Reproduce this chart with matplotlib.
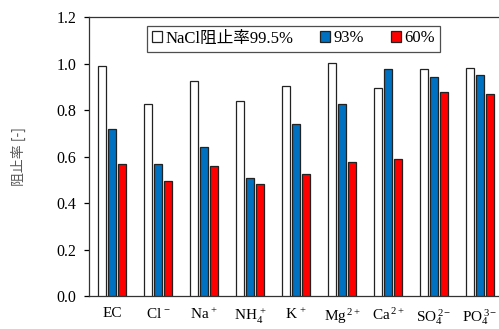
import matplotlib
matplotlib.use("Agg")
import matplotlib.pyplot as plt
import numpy as np
from matplotlib.patches import Patch

categories = ["EC", "Cl$^{\\,-}$", "Na$^{\\,+}$", "NH$_{4}^{\\,+}$", "K$^{\\,+}$",
              "Mg$^{\\,2+}$", "Ca$^{\\,2+}$", "SO$_{4}^{\\,2-}$", "PO$_{4}^{\\,3-}$"]
series_names = ["NaCl阻止率99.5%", "93%", "60%"]
s995 = [0.99, 0.828, 0.925, 0.840, 0.903, 1.004, 0.896, 0.980, 0.983]
s93 = [0.72, 0.57, 0.64, 0.51, 0.741, 0.826, 0.980, 0.944, 0.954]
s60 = [0.57, 0.495, 0.56, 0.483, 0.525, 0.577, 0.591, 0.879, 0.869]
yticks = [0.0, 0.2, 0.4, 0.6, 0.8, 1.0, 1.2]

colors = ["#ffffff", "#0070c0", "#ff0000"]

plt.rcParams['mathtext.fontset'] = 'custom'
plt.rcParams['mathtext.rm'] = 'Liberation Serif'
plt.rcParams['mathtext.it'] = 'Liberation Serif'
plt.rcParams['mathtext.bf'] = 'Liberation Serif'
serif = ['Liberation Serif', 'Noto Sans CJK JP']

fig = plt.figure(figsize=(4.99, 3.29), dpi=100)
ax = fig.add_axes([0.179, 0.100, 0.829, 0.847])

x = np.arange(len(categories))
w = 8 / 46
step = 10 / 46
for i, (vals, c) in enumerate(zip([s995, s93, s60], colors)):
    ax.bar(x + (i - 1) * step, vals, width=w, color=c, edgecolor="#222222",
           linewidth=0.9, zorder=3)

ax.set_xlim(-0.5, len(categories) - 0.5)
ax.set_ylim(0, 1.2)
ax.set_yticks(yticks)
ax.set_yticklabels([f"{t:.1f}" for t in yticks], fontfamily=serif, fontsize=11.5)
ax.set_xticks(x)
ax.set_xticklabels(categories, fontfamily=serif, fontsize=11)
ax.tick_params(axis='x', length=0, pad=8)
ax.tick_params(axis='y', direction='out', length=3.5, width=0.9, pad=6)
for sp in ax.spines.values():
    sp.set_color("#333333")
    sp.set_linewidth(0.9)
ax.spines['right'].set_visible(False)

ax.set_ylabel("阻止率 [-]", fontfamily=['Noto Sans CJK JP', 'DejaVu Sans'],
              fontsize=10, color="#595959", labelpad=22)

handles = [Patch(facecolor=c, edgecolor="#222222", linewidth=0.9) for c in colors]
leg = fig.legend(handles, series_names, ncol=3, loc='center',
                 bbox_to_anchor=((149 + 438) / 2 / 499, 1 - 38.5 / 329),
                 prop={'family': serif, 'size': 12},
                 handlelength=0.6, handleheight=0.6, handletextpad=0.2,
                 columnspacing=1.6, fancybox=False, borderpad=0.3,
                 frameon=True)
leg.get_frame().set_edgecolor("#222222")
leg.get_frame().set_linewidth(0.9)

fig.savefig("out.png", dpi=100)
